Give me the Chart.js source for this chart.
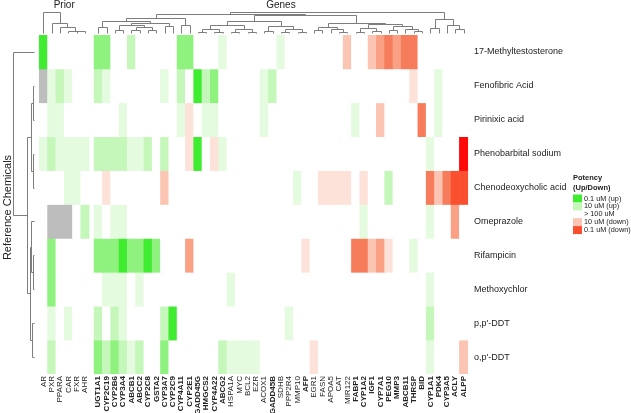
<!DOCTYPE html>
<html>
<head>
<meta charset="utf-8">
<script src="https://cdn.jsdelivr.net/npm/chart.js@4.4.0/dist/chart.umd.min.js"></script>
<style>
  html, body { margin: 0; padding: 0; background: #fff; }
  #wrap { width: 631px; height: 413px; }
</style>
</head>
<body>
<div id="wrap"><canvas id="heat" width="631" height="413"></canvas></div>
<script>
// ---- data -------------------------------------------------------------
const priorNames = ['AR', 'PXR', 'PPARA', 'CAR', 'FXR', 'AHR'];
const geneNames = [
  'UGT1A1', 'CYP2C19', 'CYP2B6', 'CYP3A4', 'ABCB1', 'ABCC2', 'CYP2C8', 'GSTA2', 'CYP3A7', 'CYP2C9',
  'CYP4A11', 'CYP2E1', 'GADD45G', 'HMGCS2', 'CYP4A22', 'ABCG2', 'HSPA1A', 'MYC', 'BCL2', 'EZR',
  'ACOX1', 'GADD45B', 'SDHB', 'PPP2R4', 'MMP10', 'AFP', 'EGR1', 'FASN', 'APOA5', 'CAT',
  'MIR122', 'FABP1', 'CYP1A2', 'IGF1', 'CYP7A1', 'PEG10', 'MMP3', 'ABCB11', 'THRSP', 'BID',
  'CYP1A1', 'PDK4', 'CYP3A5', 'ACLY', 'ALPP'
];
const boldGenes = [
  'UGT1A1', 'CYP2C19', 'CYP2B6', 'CYP3A4', 'ABCB1', 'ABCC2', 'CYP2C8', 'GSTA2', 'CYP3A7', 'CYP2C9',
  'CYP4A11', 'CYP2E1', 'GADD45G', 'HMGCS2', 'CYP4A22', 'ABCG2', 'GADD45B', 'AFP', 'FABP1', 'CYP1A2',
  'IGF1', 'CYP7A1', 'PEG10', 'MMP3', 'ABCB11', 'THRSP', 'BID', 'CYP1A1', 'PDK4', 'CYP3A5', 'ACLY', 'ALPP'
];
const chemicals = [
  '17-Methyltestosterone', 'Fenofibric Acid', 'Pirinixic acid', 'Phenobarbital sodium',
  'Chenodeoxycholic acid', 'Omeprazole', 'Rifampicin', 'Methoxychlor', "p,p'-DDT", "o,p'-DDT"
];

// potency level: 4..1 up (4 = 0.1 uM), -1..-6 down (-6 strongest), 0 none, null not available
const priorCells = [
  [4, 0, 0, 0, 0, 0],
  [null, 1, 2, 1, 0, 0],
  [0, 1, 1, 0, 0, 0],
  [1, 2, 1, 1, 1, 1],
  [0, 0, 0, 1, 1, 0],
  [0, null, null, null, 0, 2],
  [0, 3, 0, 0, 0, 0],
  [0, 3, 0, 0, 0, 0],
  [0, 1, 0, 1, 0, 0],
  [0, 2, 0, 0, 0, 0]
];
const geneCells = [
  [3, 3, 0, 0, 2, 0, 0, 0, 0, 0, 3, 3, 0, 0, 0, 1, 0, 0, 0, 0, 0, 0, 1, 0, 0, 0, 0, 0, 0, 0, -2, 0, 0, -2, -3, -4, -3, -4, -4, 0, 0, 0, 0, 0, 0],
  [2, 1, 0, 0, 0, 0, 0, 0, 1, 0, 2, 0, 4, 2, 3, 0, 0, 0, 0, 0, 1, 2, 0, 0, 0, 0, 0, 0, 0, 0, 0, 0, 0, 0, 0, 0, 0, 0, -1, 0, 0, 1, 0, 0, 0],
  [0, 0, 0, 1, 0, 0, 0, 0, 0, 0, 1, -1, 0, 1, 1, 0, 0, 0, 0, 0, 1, 0, 0, 0, 0, 0, 0, 0, 0, 0, 0, 1, 0, 0, -2, 0, 0, 0, 0, -4, 0, 1, 0, 0, 0],
  [2, 2, 2, 2, 1, 1, 2, 0, 2, 0, 0, -1, 4, 0, -1, 1, 0, 0, 0, 0, 0, 0, 0, 0, 0, 0, 0, 0, 0, 0, 0, 0, 0, 0, 0, 0, 0, 0, 0, 0, 1, 0, 0, 0, -6],
  [0, -1, 0, 0, 0, 0, 0, 0, -2, 0, 0, 0, 0, 0, 0, 0, 0, 0, 0, 0, 0, 0, 0, 0, 1, 0, 0, -1, -1, -1, -1, 0, -1, 0, 0, 2, 0, 0, 0, 0, -4, -2, -4, -5, -5],
  [1, 0, 1, 1, 0, 0, 0, 0, 0, 0, 0, 0, 0, 0, 0, 0, 0, 0, 0, 0, 0, 0, 0, 0, 0, 0, 0, 0, 0, 0, 0, 0, 1, 0, 0, 0, 0, 0, 0, 0, 1, 0, 0, -3, 0],
  [3, 3, 3, 4, 3, 3, 4, 3, 0, 0, 0, -3, 0, 0, 0, 0, 0, 0, 0, 0, 0, 0, 0, 0, 0, -1, 0, 0, 0, 0, 0, -4, -4, -2, -3, -1, 0, 0, 1, 0, 0, 0, 0, 0, 0],
  [0, 1, 1, 1, 0, 1, 0, 0, 0, 0, 0, 0, 0, 0, 0, 0, 1, 0, 0, 0, 0, 0, 0, 0, 0, 0, 0, 0, 0, 0, 0, 0, 0, 0, 0, 0, 0, 0, 0, 0, 1, 0, 0, 0, 0],
  [2, 0, 2, 1, 0, 0, 0, 0, 2, 4, 0, 0, 0, 0, 0, 0, 0, 0, 0, 0, 0, 0, 0, 1, 0, 0, 0, 0, 0, 0, 0, 0, 0, 0, 0, 0, 0, 0, 0, 0, 2, 0, 0, 0, 0],
  [3, 2, 3, 2, 1, 2, 0, 0, 3, 0, 0, 0, 0, 0, 0, 2, 1, 1, 1, 1, 0, 0, 0, 0, 0, 0, -1, 0, 0, 0, 0, 0, 0, 0, 0, 0, 0, 0, 0, 0, 1, 0, 0, 0, -2]
];

// dendrograms: [mergeHeight, left, right], leaves are column / row indices
const priorTree = [23, 0, [12, 1, [7.7, 2, [4.3, 3, [4, 4, 5]]]]];
const geneTree = [23,
  [21.5,
    [17, [14.3, [7.7, 0, 1], [12, [10.5, [5.3, 2, 3], [8, [5.3, 4, 5], [5.3, 6, 7]]], [9, 8, 9]]], [10.3, 10, 11]],
    [19.7,
      [14, [10, [6, [3.5, 12, 13], [3.5, 14, 15]], [6.5, [3, 16, 17], [3, 18, 19]]],
           [9, [4, 20, 21], [6, [3.5, 22, 23], [3.5, 24, 25]]]],
      [12, [8, [5, 26, 27], [6, 28, [3.5, 29, 30]]],
           [11, [7, [3.5, 31, 32], [4.5, 33, 34]], [9, [5, 35, 36], [6, 37, [4, 38, 39]]]]]]],
  [16, [7, 40, 41], [10.5, 42, [6, 43, 44]]]];
const rowTree = [22, 0, [8, [4.5, [2, 1, 2], [2, 3, 4]], [5, [4.5, 5, [2.5, 6, 7]], [3, 8, 9]]]];

const legendTitle = ['Potency', '(Up/Down)'];
const legendLabels = ['0.1 uM (up)', '10 uM (up)', '> 100 uM', '10 uM (down)', '0.1 uM (down)'];
const legendLevels = [4, 2, 0, -2, -5];

// ---- styling ----------------------------------------------------------
const FONT = "'Liberation Sans', Arial, Helvetica, sans-serif";
const levelColors = {
  '4': '#3fec30', '3': '#8ff27f', '2': '#c4f7b9', '1': '#e5fbdf', '0': '#ffffff',
  '-1': '#fde2d9', '-2': '#fcc4b3', '-3': '#f9a085', '-4': '#f77c5c', '-5': '#fa5030', '-6': '#ff0808'
};
const naColor = '#bdbdbd';
const lineColor = '#7d7d7d';

const colNames = priorNames.concat(geneNames);
const GAP = 0.6; // blank space between the prior block and the gene block
const colPos = colNames.map((_, i) => i < priorNames.length ? i + 0.5 : i + 0.5 + GAP);
const cellRows = priorCells.map((row, r) => row.concat(geneCells[r]));

function cellColor(v) {
  return v === null ? naColor : levelColors[String(v)];
}

const datasets = cellRows.map((row, r) => ({
  label: chemicals[r],
  data: row.map((_, c) => ({ x: colPos[c], y: [r, r + 1] })),
  backgroundColor: row.map(cellColor),
  borderWidth: 0,
  grouped: false,
  barPercentage: 1,
  categoryPercentage: 1
}));

function seg(ctx, a, b) {
  ctx.beginPath();
  ctx.moveTo(Math.round(a[0]) + 0.5, Math.round(a[1]) + 0.5);
  ctx.lineTo(Math.round(b[0]) + 0.5, Math.round(b[1]) + 0.5);
  ctx.stroke();
}

function drawTree(ctx, node, leafAt, toXY, leafH) {
  if (typeof node === 'number') return { pos: leafAt(node), h: leafH };
  const [h, a, b] = node;
  const A = drawTree(ctx, a, leafAt, toXY, leafH);
  const B = drawTree(ctx, b, leafAt, toXY, leafH);
  seg(ctx, toXY(A.pos, A.h), toXY(A.pos, h));
  seg(ctx, toXY(B.pos, B.h), toXY(B.pos, h));
  seg(ctx, toXY(A.pos, h), toXY(B.pos, h));
  return { pos: (A.pos + B.pos) / 2, h };
}

const decorPlugin = {
  id: 'decor',
  afterDraw(chart) {
    const { ctx, chartArea } = chart;
    const x = chart.scales.x, y = chart.scales.y;
    const top = chartArea.top, left = chartArea.left;
    const nPrior = priorNames.length;
    ctx.save();
    ctx.strokeStyle = lineColor;
    ctx.lineWidth = 1;

    const topXY = (p, h) => [p, top - h];
    drawTree(ctx, priorTree, i => x.getPixelForValue(colPos[i]), topXY, 2);
    drawTree(ctx, geneTree, i => x.getPixelForValue(colPos[i + nPrior]), topXY, 2);
    drawTree(ctx, rowTree, i => y.getPixelForValue(i + 0.5), (p, h) => [left - h, p], 1);

    // block titles
    ctx.fillStyle = '#222';
    ctx.font = '10px ' + FONT;
    ctx.textAlign = 'center';
    ctx.textBaseline = 'middle';
    const priorMid = (x.getPixelForValue(colPos[0]) + x.getPixelForValue(colPos[nPrior - 1])) / 2;
    const geneMid = (x.getPixelForValue(colPos[nPrior]) + x.getPixelForValue(colPos[colPos.length - 1])) / 2;
    ctx.fillText('Prior', priorMid, 5);
    ctx.fillText('Genes', geneMid, 5);

    // row axis title
    ctx.save();
    ctx.translate(8, (chartArea.top + chartArea.bottom) / 2 + 3);
    ctx.rotate(-Math.PI / 2);
    ctx.font = '11px ' + FONT;
    ctx.fillText('Reference Chemicals', 0, 0);
    ctx.restore();

    // legend
    const lx = 573;
    ctx.textAlign = 'left';
    ctx.fillStyle = '#222';
    ctx.font = 'bold 7.5px ' + FONT;
    legendTitle.forEach((t, i) => ctx.fillText(t, lx, 178 + i * 10));
    ctx.font = '7.3px ' + FONT;
    legendLabels.forEach((t, i) => {
      const cy = 198.5 + i * 7.9;
      if (legendLevels[i] !== 0) {
        ctx.fillStyle = levelColors[String(legendLevels[i])];
        ctx.fillRect(lx, cy - 4, 9, 8);
      }
      ctx.fillStyle = '#222';
      ctx.fillText(t, lx + 11, cy);
    });
    ctx.restore();
  }
};

new Chart(document.getElementById('heat'), {
  type: 'bar',
  data: { datasets },
  options: {
    responsive: false,
    animation: false,
    devicePixelRatio: 1,
    layout: { padding: { left: 35, top: 35, right: 0, bottom: 0 } },
    plugins: { legend: { display: false }, tooltip: { enabled: false } },
    scales: {
      x: {
        type: 'linear',
        position: 'bottom',
        min: 0,
        max: colNames.length + GAP,
        grid: { display: false, drawTicks: false },
        border: { display: false },
        afterBuildTicks: s => { s.ticks = colPos.map(v => ({ value: v })); },
        afterFit: s => { s.height = 39; },
        ticks: {
          autoSkip: false,
          minRotation: 90,
          maxRotation: 90,
          padding: 2,
          color: '#222',
          font: c => ({ family: FONT, size: 8, weight: boldGenes.includes(colNames[c.index]) ? 'bold' : 'normal' }),
          callback: (v, i) => colNames[i]
        }
      },
      y: {
        type: 'linear',
        position: 'right',
        reverse: true,
        min: 0,
        max: chemicals.length,
        grid: { display: false, drawTicks: false },
        border: { display: false },
        afterBuildTicks: s => { s.ticks = chemicals.map((_, i) => ({ value: i + 0.5 })); },
        afterFit: s => { s.width = 159; },
        ticks: {
          autoSkip: false,
          padding: 2,
          color: '#222',
          font: { family: FONT, size: 9 },
          callback: (v, i) => chemicals[i]
        }
      }
    }
  },
  plugins: [decorPlugin]
});
</script>
</body>
</html>
